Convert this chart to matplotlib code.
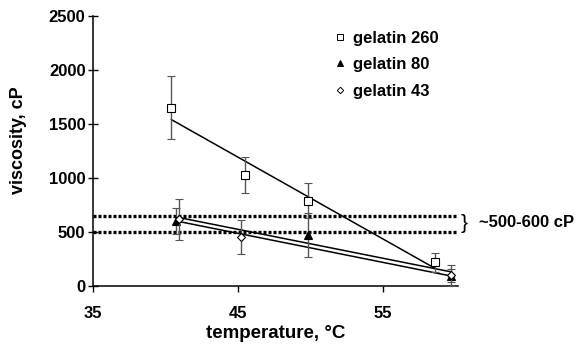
import numpy as np
import matplotlib
matplotlib.use("Agg")
import matplotlib.pyplot as plt
from matplotlib.lines import Line2D

plt.rcParams['font.family'] = ['Liberation Sans', 'DejaVu Sans']
plt.rcParams['font.weight'] = 'bold'

# gelatin 260
t260 = [40.4, 45.5, 49.8, 58.6]
v260 = [1650, 1030, 790, 220]
e260 = [290, 165, 160, 85]
# gelatin 80
t80 = [40.7, 49.8, 59.7]
v80 = [600, 475, 95]
e80 = [120, 205, 60]
# gelatin 43
t43 = [40.9, 45.2, 59.7]
v43 = [620, 455, 100]
e43 = [190, 160, 100]

band_low, band_high = 500, 650
band_label = "~500-600 cP"

fig = plt.figure(figsize=(5.75, 3.46), dpi=100)
ax = fig.add_axes([0.162, 0.173, 0.635, 0.781])

err_kw = dict(ecolor='#555555', elinewidth=1.0, capsize=3, capthick=1.0, linestyle='none')

ax.errorbar(t260, v260, yerr=e260, marker='s', ms=5.5, mfc='white', mec='black', mew=0.8,
            zorder=4, **err_kw)
ax.errorbar(t80, v80, yerr=e80, marker='^', ms=5.5, mfc='black', mec='black', mew=0.8,
            zorder=4, **err_kw)
ax.errorbar(t43, v43, yerr=e43, marker='D', ms=4.2, mfc='white', mec='black', mew=0.8,
            zorder=5, **err_kw)

# linear trend lines
for t, v in [(t260, v260), (t80, v80), (t43, v43)]:
    k, b = np.polyfit(t, v, 1)
    xs = np.array([t[0], t[-1]])
    ax.plot(xs, k * xs + b, color='black', lw=1.1, zorder=3)

# target viscosity band
for yv in (band_low, band_high):
    ax.plot([35, 60.1], [yv, yv], color='black', lw=2.4, linestyle=(0, (0.9, 0.6)),
            zorder=2, clip_on=False)

ax.text(60.35, (band_low + band_high) / 2, '}', fontsize=15, fontweight='normal',
        va='center', ha='left', clip_on=False)
ax.text(61.6, (band_low + band_high) / 2 + 15, band_label, fontsize=12, fontweight='bold',
        va='center', ha='left', clip_on=False)

ax.set_xlim(35, 60.2)
ax.set_ylim(0, 2500)
ax.set_xticks([35, 45, 55])
ax.set_yticks([0, 500, 1000, 1500, 2000, 2500])
ax.spines['top'].set_visible(False)
ax.spines['right'].set_visible(False)
ax.spines['left'].set_linewidth(1.1)
ax.spines['bottom'].set_linewidth(1.1)
ax.tick_params(axis='y', labelsize=12, width=1, length=7, direction='inout', pad=2)
ax.tick_params(axis='x', labelsize=12, width=1, length=4, direction='out', pad=10)
for lab in ax.get_xticklabels() + ax.get_yticklabels():
    lab.set_fontweight('bold')

ax.set_xlabel('temperature, °C', fontsize=13.5, fontweight='bold', labelpad=3)
ax.set_ylabel('viscosity, cP', fontsize=13, fontweight='bold')
ax.yaxis.set_label_coords(-0.18, 0.54)

handles = [
    Line2D([], [], linestyle='none', marker='s', ms=4, mfc='white', mec='black', mew=0.7),
    Line2D([], [], linestyle='none', marker='^', ms=4.5, mfc='black', mec='black', mew=0.7),
    Line2D([], [], linestyle='none', marker='D', ms=3.3, mfc='white', mec='black', mew=0.7),
]
labels = ['gelatin 260', 'gelatin 80', 'gelatin 43']
ax.legend(handles, labels, loc='upper left', bbox_to_anchor=(0.62, 1.0), frameon=False,
          handlelength=0.6, handletextpad=0.5, labelspacing=0.68,
          prop={'weight': 'bold', 'size': 12})

fig.savefig('out.png', dpi=100)
